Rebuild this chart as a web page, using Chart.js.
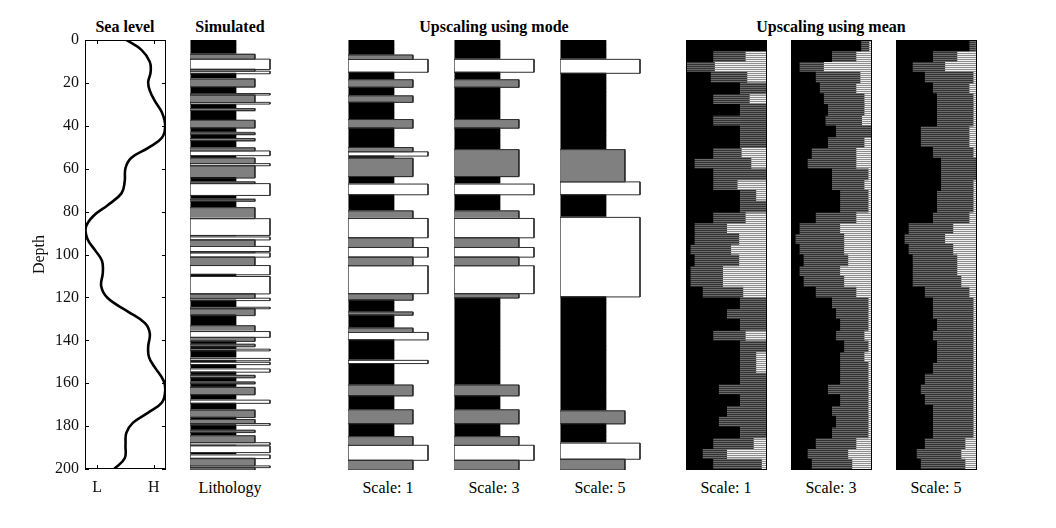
<!DOCTYPE html>
<html><head><meta charset="utf-8">
<script src="https://cdn.jsdelivr.net/npm/chart.js@4.4.1/dist/chart.umd.min.js"></script>
<style>
body{margin:0;background:#fff;width:1056px;height:528px;overflow:hidden;position:relative;font-family:"Liberation Serif","Times New Roman",serif;}
canvas{position:absolute;}
.t{position:absolute;font-size:16px;color:#000;white-space:nowrap;transform:translate(-50%,-50%);}
.b{font-weight:bold;}
</style></head><body>
<div class="t b" style="left:125px;top:27px">Sea level</div>
<div class="t b" style="left:230px;top:27px">Simulated</div>
<div class="t b" style="left:494px;top:27px">Upscaling using mode</div>
<div class="t b" style="left:831px;top:27px">Upscaling using mean</div>
<div class="t" style="left:230px;top:488px">Lithology</div>
<div class="t" style="left:388px;top:488px">Scale: 1</div>
<div class="t" style="left:494px;top:488px">Scale: 3</div>
<div class="t" style="left:600px;top:488px">Scale: 5</div>
<div class="t" style="left:726px;top:488px">Scale: 1</div>
<div class="t" style="left:831px;top:488px">Scale: 3</div>
<div class="t" style="left:936px;top:488px">Scale: 5</div>
<script>
// ---------- data ----------
const depthTicks=[0,20,40,60,80,100,120,140,160,180,200];
const seaTickVals=[0.15,0.85];
const seaTickLabels=['L','H'];
const seaDepth=[0,4.7,10.2,15,19.7,23.6,28.3,33.8,40,45.6,50.3,55,59.7,66,71.5,77,81.8,87.3,92.8,98.3,103,108.5,114.8,120.3,126.6,132,136.8,143,147.8,152.5,158.8,163.5,169,173.7,178.5,183.2,188.7,195,200];
const seaLevel=[0.51,0.70,0.80,0.81,0.78,0.80,0.86,0.95,0.99,0.95,0.78,0.57,0.50,0.49,0.45,0.28,0.11,0.01,0.03,0.13,0.21,0.22,0.20,0.28,0.53,0.74,0.80,0.78,0.79,0.86,0.97,0.99,0.95,0.78,0.59,0.51,0.50,0.49,0.36];

// lithology codes: 0 = black, 1 = grey, 2 = white
const classWidth=[0.57,0.81,1.0];
const simTop=[0,6.7,8.9,13.7,14.5,15.7,18.2,21.8,24.9,25.6,29,29.8,31.9,32.8,37.3,40.9,43.2,44,45.8,46.8,50.2,51.6,53.8,54.9,57.5,58.5,64.2,66,66.8,72.3,74.1,75,78,83.1,90.9,91.6,93,96,98.4,99,101,104.9,109.2,110,118.1,120.1,121.2,124.3,125,128.2,132.9,135.6,138.3,140.2,141.5,142.7,143.8,144.6,148.1,149.2,149.9,151,153,154.5,156,157.1,159.1,159.9,161.6,165,167.5,169,172.2,175.6,176.5,178.4,179.2,181.5,182.6,184.1,187.3,188.4,188.8,191.9,193,194.7,198.1,198.9];
const simCode=[0,1,2,1,2,0,1,0,2,1, 2,0,1,0,1,0,1,0,1,0, 1,2,0,1,2,1,0,1,2,0, 1,0,1,2,0,2,1,2,1,2, 1,2,0,2,1,2,0,2,1,0, 1,2,1,0,1,0,2,0,2,0, 2,0,2,0,1,0,1,0,1,0, 2,0,1,0,1,2,0,1,0,1, 2,0,2,0,2,1,2,1];
const mode1Top=[0,7,9,15,18.5,22,26,29,37,41,50,52,54,55,63.5,67,72,79.5,83,92,96.5,101,105,118,121,126.5,128,134,136,139.5,149,150.5,160.5,165.5,172,178.5,184.5,188.5,195.5];
const mode1Code=[0,1,2,0,1,0,1,0,1,0, 1,2,0,1,0,2,0,1,2,1, 2,1,2,1,0,1,0,1,2,0, 2,0,1,0,1,0,1,2,1];
const mode3Top=[0,9,15,18.5,22,37,41,51,63.5,67,72,79.5,83,92,96.5,101,105,118,120,160.5,165.5,172,178.5,184.5,188.5,195.5];
const mode3Code=[0,2,0,1,0,1,0,1,0,2,0,1,2,1,2,1,2,1,0,1,0,1,0,1,2,1];
const mode5Top=[0,9,15.5,51,66,72,82.5,119.5,172.5,178.5,187.5,195];
const mode5Code=[0,2,0,1,2,0,2,0,1,0,2,1];

// mean upscaling: per 5-unit depth row, width of black part and dark-grey part (rest light)
const meanRows=['0','5','10','15','20','25','30','35','40','45','50','55','60','65','70','75','80','85','90','95','100','105','110','115','120','125','130','135','140','145','150','155','160','165','170','175','180','185','190','195'];
const mean1Black=[1,0.33,0,0.3,0.66,0.33,0.66,0.33,0.66,0.66,0.33,0.1,0.33,0.33,0.66,0.66,0.33,0.1,0.1,0.05,0.1,0.05,0.05,0.2,0.66,0.5,0.66,0.33,0.66,0.66,0.66,0.66,0.4,0.66,0.5,0.4,0.66,0.33,0.2,0.33];
const mean1Dark=[0,0.4,0.35,0.45,0.34,0.45,0.34,0.67,0.34,0.34,0.35,0.7,0.67,0.3,0.2,0.34,0.4,0.4,0.55,0.5,0.55,0.4,0.4,0.5,0.34,0.5,0.34,0.4,0.34,0.2,0.2,0.34,0.6,0.34,0.5,0.6,0.34,0.5,0.3,0.6];
const mean3Black=[0.86,0.5,0.1,0.3,0.35,0.4,0.45,0.42,0.55,0.45,0.25,0.2,0.5,0.5,0.6,0.6,0.3,0.1,0.05,0.1,0.15,0.1,0.15,0.3,0.5,0.55,0.6,0.55,0.65,0.6,0.6,0.6,0.45,0.6,0.5,0.55,0.5,0.3,0.2,0.25];
const mean3Dark=[0.1,0.3,0.3,0.55,0.45,0.5,0.45,0.45,0.45,0.45,0.55,0.6,0.45,0.4,0.35,0.35,0.5,0.5,0.6,0.55,0.55,0.5,0.5,0.5,0.45,0.4,0.35,0.35,0.3,0.3,0.35,0.35,0.5,0.35,0.45,0.4,0.45,0.5,0.5,0.5];
const mean5Black=[0.9,0.45,0.2,0.35,0.45,0.5,0.5,0.5,0.3,0.3,0.45,0.55,0.55,0.55,0.5,0.5,0.45,0.15,0.1,0.15,0.2,0.2,0.2,0.35,0.45,0.45,0.5,0.45,0.5,0.5,0.45,0.35,0.3,0.35,0.45,0.45,0.45,0.35,0.25,0.3];
const mean5Dark=[0.08,0.3,0.4,0.6,0.45,0.45,0.45,0.45,0.6,0.6,0.5,0.45,0.45,0.4,0.45,0.45,0.45,0.55,0.5,0.55,0.55,0.55,0.6,0.55,0.5,0.5,0.45,0.5,0.45,0.45,0.5,0.6,0.65,0.6,0.5,0.5,0.5,0.5,0.55,0.55];

// ---------- drawing ----------
Chart.defaults.font.family='"Liberation Serif","Times New Roman",serif';
Chart.defaults.color='#000';
const FONT={family:'"Liberation Serif","Times New Roman",serif',size:16};

function mkCanvas(l,t,w,h){const c=document.createElement('canvas');c.width=w;c.height=h;c.style.left=l+'px';c.style.top=t+'px';c.style.width=w+'px';c.style.height=h+'px';document.body.appendChild(c);return c;}
function stripe(c1,c2){const c=document.createElement('canvas');c.width=4;c.height=2;const g=c.getContext('2d');g.fillStyle=c1;g.fillRect(0,0,4,1);g.fillStyle=c2;g.fillRect(0,1,4,1);return g.createPattern(c,'repeat');}
const darkPat=stripe('#333333','#6a6a6a');
const lightPat=stripe('#f0f0f0','#8e8e8e');

const seaFrame={id:'seaFrame',afterDraw(ch){const {ctx,chartArea:a,scales}=ch;ctx.save();ctx.strokeStyle='#000';ctx.lineWidth=1;
 ctx.strokeRect(a.left+0.5,a.top+0.5,a.right-a.left-1,a.bottom-a.top-1);
 ctx.beginPath();
 depthTicks.forEach(v=>{const y=Math.round(scales.y.getPixelForValue(v))+0.5;ctx.moveTo(a.left,y);ctx.lineTo(a.left+4,y);ctx.moveTo(a.right-4,y);ctx.lineTo(a.right,y);});
 seaTickVals.forEach(v=>{const x=Math.round(scales.x.getPixelForValue(v))+0.5;ctx.moveTo(x,a.bottom);ctx.lineTo(x,a.bottom-4);ctx.moveTo(x,a.top);ctx.lineTo(x,a.top+4);});
 ctx.stroke();ctx.restore();}};

new Chart(mkCanvas(0,0,180,528),{type:'scatter',
 data:{datasets:[{data:seaDepth.map((d,i)=>({x:seaLevel[i],y:d})),showLine:true,borderColor:'#000',borderWidth:2.6,pointRadius:0,tension:0.4,fill:false}]},
 options:{responsive:false,animation:false,devicePixelRatio:1,
  layout:{padding:{left:26,right:14,top:40,bottom:29}},
  plugins:{legend:{display:false},tooltip:{enabled:false}},
  scales:{
   x:{type:'linear',min:0,max:1,grid:{display:false,drawTicks:false},border:{display:false},
      afterBuildTicks:s=>{s.ticks=seaTickVals.map(v=>({value:v}));},
      afterFit:s=>{s.height=30;},
      ticks:{font:FONT,color:'#111',padding:9,callback:(v)=>seaTickLabels[seaTickVals.indexOf(v)]}},
   y:{type:'linear',reverse:true,min:0,max:200,grid:{display:false,drawTicks:false},border:{display:false},
      afterBuildTicks:s=>{s.ticks=depthTicks.map(v=>({value:v}));},
      afterFit:s=>{s.width=59;},
      title:{display:true,text:'Depth',font:FONT,color:'#111'},
      ticks:{font:FONT,color:'#111',padding:6}}
  }},plugins:[seaFrame]});

const leftLine={id:'leftLine',afterDraw(ch){const {ctx,chartArea:a}=ch;ctx.save();ctx.strokeStyle='#777';ctx.lineWidth=1;ctx.beginPath();ctx.moveTo(a.left+0.5,a.top);ctx.lineTo(a.left+0.5,a.bottom);ctx.stroke();ctx.restore();}};
const fillCol=['#000000','#808080','#ffffff'];

function lithChart(left,tops,codes){
 const n=400,labels=[],cls=[];
 for(let r=0;r<n;r++){const d=(r+0.5)*0.5;let k=0;for(let j=0;j<tops.length;j++){if(tops[j]<=d)k=codes[j];}labels.push(String(r*0.5));cls.push(k);}
 // fills: one bar per half-unit row
 new Chart(mkCanvas(left,40,82,430),{type:'bar',
  data:{labels,datasets:[{data:cls.map(k=>classWidth[k]),backgroundColor:cls.map(k=>fillCol[k]),
   borderWidth:0,barPercentage:1,categoryPercentage:1,inflateAmount:0.6}]},
  options:{indexAxis:'y',responsive:false,animation:false,devicePixelRatio:1,layout:{padding:0},
   plugins:{legend:{display:false},tooltip:{enabled:false}},
   scales:{x:{display:false,min:0,max:1.025},y:{display:false}}},plugins:[leftLine]});
 // outlines of grey and white beds
 const pts=[];
 tops.forEach((t,j)=>{const k=codes[j];if(k===0)return;const b=j+1<tops.length?tops[j+1]:200;const w=classWidth[k];
  pts.push({x:0,y:t},{x:w,y:t},{x:w,y:b},{x:0,y:b},{x:null,y:null});});
 new Chart(mkCanvas(left,40,82,430),{type:'scatter',
  data:{datasets:[{data:pts,showLine:true,spanGaps:false,borderColor:'#2e2e2e',borderWidth:1,pointRadius:0,fill:false}]},
  options:{responsive:false,animation:false,devicePixelRatio:1,layout:{padding:0},
   plugins:{legend:{display:false},tooltip:{enabled:false}},
   scales:{x:{display:false,type:'linear',min:0,max:1.025},y:{display:false,type:'linear',reverse:true,min:0,max:200}}}});
}
lithChart(190,simTop,simCode);
lithChart(348,mode1Top,mode1Code);
lithChart(454,mode3Top,mode3Code);
lithChart(560,mode5Top,mode5Code);

const boxFrame={id:'boxFrame',afterDraw(ch){const {ctx,chartArea:a}=ch;ctx.save();ctx.strokeStyle='#000';ctx.lineWidth=1;ctx.strokeRect(a.left+0.5,a.top+0.5,a.right-a.left-1,a.bottom-a.top-1);ctx.restore();}};
function meanChart(left,blk,dk){
 const rest=blk.map((b,i)=>Math.max(0,1-b-dk[i]));
 const ds=(d,c)=>({data:d,backgroundColor:c,borderWidth:0,barPercentage:1,categoryPercentage:1,inflateAmount:0.5});
 new Chart(mkCanvas(left,40,81,430),{type:'bar',
  data:{labels:meanRows,datasets:[ds(blk,'#000'),ds(dk,darkPat),ds(rest,lightPat)]},
  options:{indexAxis:'y',responsive:false,animation:false,devicePixelRatio:1,layout:{padding:0},
   plugins:{legend:{display:false},tooltip:{enabled:false}},
   scales:{x:{display:false,stacked:true,min:0,max:1},y:{display:false,stacked:true}}},plugins:[boxFrame]});
}
meanChart(686,mean1Black,mean1Dark);
meanChart(791,mean3Black,mean3Dark);
meanChart(896,mean5Black,mean5Dark);
</script>
</body></html>
